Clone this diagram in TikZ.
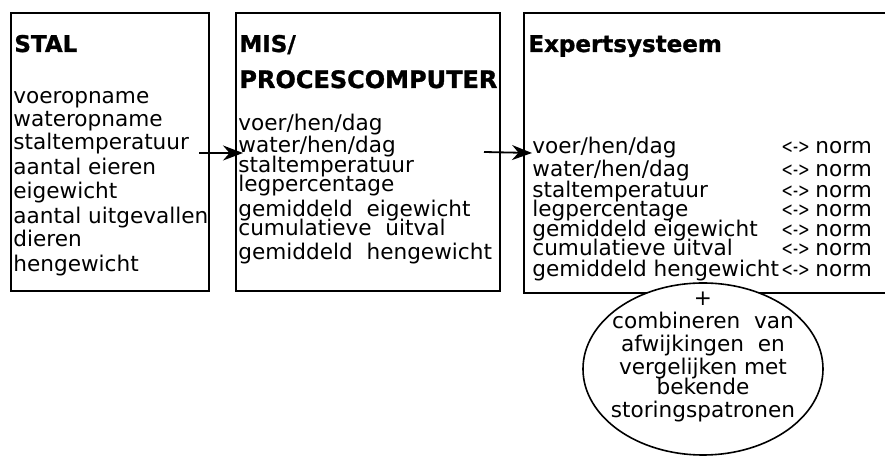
\documentclass[tikz,border=0pt]{standalone}
\usepackage{fontspec}
\setmainfont{DejaVu Sans}
\newfontfamily\headfont{DejaVu Sans}[BoldFeatures={FakeBold=1.2}]
\usetikzlibrary{arrows.meta, positioning, shapes.geometric}

\newcommand\listfont{\fontsize{10.8}{9}\selectfont\lineskiplimit=-\maxdimen}
\newcommand\cmp{\makebox[17pt][l]{\scalebox{0.7}[1]{\fontsize{10}{10}\selectfont<->}}}

\begin{document}
\begin{tikzpicture}[
				x=0.5pt, y=-0.5pt,
				>={Stealth[length=10pt,width=7.5pt]},
				frame/.style={
					draw,
					line width=1pt,
					anchor=north west,
					inner sep=0pt
				},
				head/.style={
					anchor=base west,
					inner sep=0pt,
					font=\headfont\fontsize{11.5}{12}\selectfont\bfseries
				},
				list/.style={
					anchor=base west,
					inner sep=0pt,
					align=left,
					font=\listfont
				}
				]

				\useasboundingbox (0,0) rectangle (885,458);

				%------------------------------------------------
				% BOXES
				%------------------------------------------------

				\node[frame, minimum width=99pt, minimum height=139pt] (stal) at (10,12) {};
				\node[frame, minimum width=132pt, minimum height=139pt] (mis) at (235,12) {};
				\node[frame, minimum width=190pt, minimum height=140pt] (expert) at (523,12) {};

				%------------------------------------------------
				% STAL
				%------------------------------------------------

				\node[head] (stalhead) at (14,52) {STAL};

				% anchored at the baseline of the last line
				\node[list] (stallist) at (13,272) {%
					voeropname\\[2.5pt]
					wateropname\\[2.5pt]
					staltemperatuur\\[3.5pt]
					aantal eieren\\[3pt]
					eigewicht\\[3.5pt]
					aantal uitgevallen\\[2.5pt]
					dieren\\[3.5pt]
					hengewicht};

				%------------------------------------------------
				% MIS / PROCESCOMPUTER
				%------------------------------------------------

				\node[head] (mishead) at (239,52) {MIS/};
				\node[head, font=\headfont\fontsize{12}{12}\selectfont\bfseries] (mishead2) at (239,88) {PROCESCOMPUTER};

				\node[list] (mislist) at (238,260) {%
					voer/hen/dag\\[2pt]
					water/hen/dag\\[1pt]
					staltemperatuur\\[0.5pt]
					legpercentage\\[3.5pt]
					gemiddeld\ \ eigewicht\\[0.5pt]
					cumulatieve\ \ uitval\\[3pt]
					gemiddeld\ \ hengewicht};

				%------------------------------------------------
				% EXPERTSYSTEEM
				%------------------------------------------------

				\node[head] (experthead) at (528,52) {Expertsysteem};

				\node[list] (expertlist) at (532,277) {%
					voer/hen/dag\\[2.5pt]
					water/hen/dag\\[1.5pt]
					staltemperatuur\\[0.5pt]
					legpercentage\\[1pt]
					gemiddeld eigewicht\\[0.5pt]
					cumulatieve uitval\\[1.5pt]
					gemiddeld hengewicht};

				\node[list] (normlist) at (781,277) {%
					\cmp norm\\[2.5pt]
					\cmp norm\\[1.5pt]
					\cmp norm\\[0.5pt]
					\cmp norm\\[1pt]
					\cmp norm\\[0.5pt]
					\cmp norm\\[1.5pt]
					\cmp norm};

				%------------------------------------------------
				% ELLIPSE
				%------------------------------------------------

				\node[
				ellipse,
				draw,
				line width=0.8pt,
				fill=white,
				minimum width=120pt,
				minimum height=86pt
				] (combi) at (703,369) {};

				\node[
				anchor=base,
				inner sep=0pt,
				align=center,
				font=\listfont
				] (combitext) at ([yshift=-24.5pt]combi.center) {%
					+\\[2.5pt]
					combineren\ \ van\\[2.5pt]
					afwijkingen\ \ en\\[2.5pt]
					vergelijken\ met\\[1pt]
					bekende\\[2.5pt]
					storingspatronen};

				%------------------------------------------------
				% ARROWS
				%------------------------------------------------

				\draw[->, line width=0.9pt]
				([xshift=-5.5pt, yshift=-0.5pt]stal.east)
				-- ([xshift=4pt, yshift=-0.5pt]mis.west);

				\draw[->, line width=0.9pt]
				([xshift=-8.5pt]mis.east)
				-- ([xshift=4.5pt]expert.west);

			\end{tikzpicture}
\end{document}
